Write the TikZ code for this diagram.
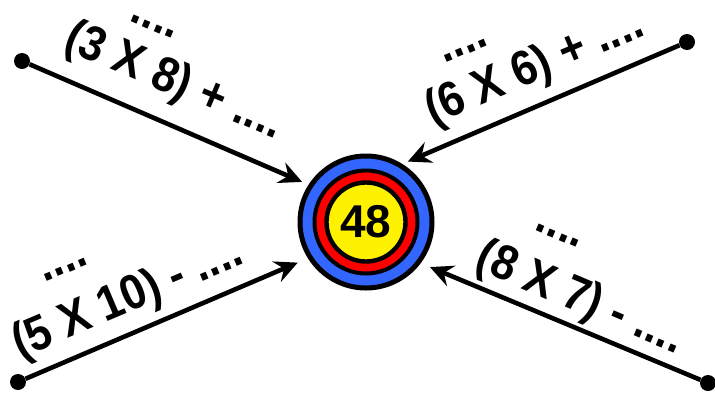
\documentclass[tikz,border=0pt]{standalone}
\usepackage{fontspec}
\setmainfont{Liberation Sans}
\newfontfamily\sumfont[FakeStretch=0.9]{Liberation Sans}
\usetikzlibrary{arrows.meta}
\definecolor{ringblue}{RGB}{51,102,255}

\begin{document}
\begin{tikzpicture}[x=1pt,y=-1pt,>={Stealth[length=23pt,width=22pt,inset=8pt]},
  ring/.style={circle,draw,inner sep=0pt,line width=4.4pt},
  pin/.style={circle,fill,inner sep=0pt,minimum size=16pt},
  sum/.style={font=\sumfont\bfseries\fontsize{49}{52}\selectfont,anchor=base,inner sep=0pt}]
 \useasboundingbox (0,0) rectangle (715,392);
 % target
 \node[ring,line width=5pt,fill=ringblue,minimum size=132pt] (target) at (366,222) {};
 \node[ring,line width=4pt,fill=red,minimum size=103pt] (redring) at (target) {};
 \node[ring,fill=yellow,minimum size=79pt,font=\bfseries\fontsize{46}{48}\selectfont] (bull) at (target) {48};
 % pins and arrows
 \node[pin] (pinA) at (22,61) {};
 \node[pin] (pinB) at (687,42) {};
 \node[pin] (pinC) at (18,382) {};
 \node[pin] (pinD) at (708,383) {};
 \draw[->,line width=4.6pt,shorten >=7pt] (pinA) -- (target.147);
 \draw[->,line width=4.6pt,shorten >=6pt] (pinB) -- (target.58);
 \draw[->,line width=4.6pt,shorten >=11pt] (pinC) -- (target.212);
 \draw[->,line width=4.6pt,shorten >=10pt] (pinD) -- (target.323);
 % sums
 \node[sum,rotate=-23] (sumA) at (169,94) {(3 X 8) + ....};
 \node[sum,rotate=-23] (gapA) at (151,30) {....};
 \node[sum,rotate=23] (sumB) at (540,80) {(6 X 6) + ....};
 \node[sum,rotate=23] (gapB) at (467,54) {....};
 \node[sum,rotate=23] (sumC) at (133,311) {(5 X 10) - ....};
 \node[sum,rotate=23] (gapC) at (67,273) {....};
 \node[sum,rotate=-23] (sumD) at (575,311) {(8 X 7) - ....};
 \node[sum,rotate=-23] (gapD) at (556,239) {....};
\end{tikzpicture}
\end{document}
